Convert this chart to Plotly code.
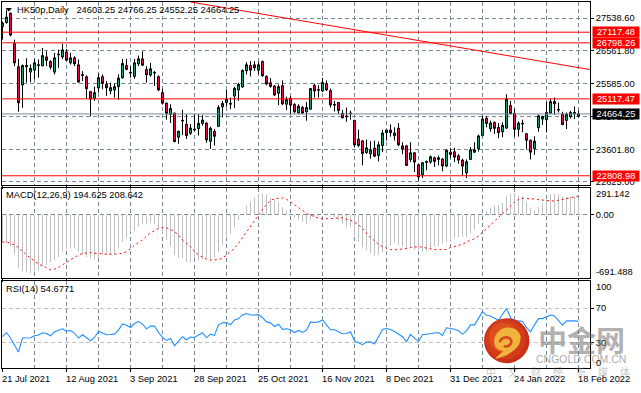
import plotly.graph_objects as go

dates_lbl = ["21 Jul 2021", "12 Aug 2021", "3 Sep 2021", "28 Sep 2021", "25 Oct 2021", "16 Nov 2021",
             "8 Dec 2021", "31 Dec 2021", "24 Jan 2022", "18 Feb 2022"]
date_bars = [0, 16, 32, 48, 64, 80, 96, 112, 128, 144]

highs = [27439,27786,27707,26893,26317,26148,26337,26148,26317,26297,26645,26545,26277,26496,26595,26774,26615,26496,26396,26297,
25950,25821,25354,25483,25880,25850,25652,25602,25582,25850,26317,26317,26099,26317,26416,26545,26099,26198,25950,25821,
25424,25007,24957,24709,24163,24788,24659,24361,24659,24659,24629,24411,24282,24212,24927,25056,25384,25156,25483,25602,
26000,26218,26248,26248,26238,26267,25821,25741,25533,25553,25672,25185,25205,24987,24957,24907,25026,25443,25572,25523,
25751,25672,25424,25056,25026,24788,24858,24758,24490,24193,23875,23895,23845,23865,23835,24183,24193,24351,24262,24391,
23815,23736,23815,23518,23170,23220,23269,23418,23388,23418,23339,23597,23647,23647,23458,23319,23299,23666,23815,24044,
24609,24590,24461,24441,24391,24411,25255,25056,24828,24441,24490,24083,23895,23994,24639,24609,25026,25116,25156,25007,
24729,24709,24758,24887,24766.25]
lows = [26893,27369,26992,26099,24729,24848,25602,25622,25702,25751,26099,26099,26000,25850,26049,26317,26267,26148,26099,25602,
25652,25126,24590,25056,25304,25404,25205,25255,25156,25086,25721,25979,25751,25721,26099,26099,25602,25781,25503,25354,
24947,24490,24391,23815,23766,24034,23915,24034,24143,24014,24312,23796,23617,23716,24272,24560,24887,24808,24838,25056,
25453,25850,25791,25950,25850,25781,25523,25453,25205,24927,24927,24778,24659,24689,24659,24659,24461,24788,25156,25156,
25324,25354,24858,24739,24659,24530,24431,24490,23657,23666,23120,23468,23319,23368,23240,23518,23865,23984,23865,23696,
23458,23101,23220,22922,22664,22743,22972,23170,23071,23120,22942,23071,23339,23220,23170,22823,22743,23289,23488,23537,
23994,24262,24133,24064,23934,23964,24212,24659,23984,23984,24113,23597,23299,23438,24133,24332,24113,24659,24639,24709,
24332,24212,24530,24510,24552.25]
opens = [27290,27409,27687,26774,26079,25533,26079,25920,25979,26118,26108,26376,26238,25920,26436,26376,26525,26198,26347,26138,
25821,25781,25334,25126,25443,25781,25553,25354,25384,25483,25751,26118,25890,25791,26168,26317,26000,25831,25890,25781,
25304,24987,24649,24689,23964,24451,24351,24083,24183,24222,24381,24391,23845,24143,24292,24877,25007,24957,25205,25384,
25473,25960,26118,26138,25979,26238,25791,25602,25503,25285,25513,24957,25136,24947,24699,24858,24729,24808,25523,25374,
25354,25572,25364,24927,25007,24679,24580,24669,24471,23905,23855,23508,23468,23637,23418,23716,24103,24183,24014,24232,
23706,23706,23299,23498,23140,22842,23210,23220,23349,23299,23309,23101,23518,23528,23408,23279,22892,23299,23518,23617,
24014,24530,24222,24411,24262,24133,24242,24917,24679,24203,24361,24073,23875,23627,24252,24510,24490,24689,25036,24778,
24659,24471,24580,24669,24603.25]
closes = [27389,27568,27032,26198,24997,26118,26118,26029,26198,26138,26416,26277,26069,26347,26456,26585,26277,26347,26168,25622,
25840,25424,25106,25304,25751,25582,25453,25453,25483,25741,26178,26000,25910,26198,26317,26128,25840,26019,25910,25384,
24987,24679,24828,23835,24143,24471,24014,24242,24203,24381,24480,23885,24232,23994,24858,24977,25106,24977,25433,25553,
25970,26138,25979,26049,26138,25811,25563,25493,25235,25483,24967,25096,24927,24729,24897,24689,24858,25424,25354,25394,
25612,25384,24937,24947,24768,24550,24600,24689,23736,23716,23478,23647,23587,23398,23736,24093,24183,24103,24093,23736,
23617,23120,23498,23220,22773,23200,23230,23379,23240,23349,23101,23577,23448,23368,23279,23101,23230,23587,23587,24004,
24510,24381,24391,24232,24103,24322,25106,24669,24203,24391,24381,23875,23518,23845,24609,24590,24709,25036,24967,24798,
24342,24659,24709,24709,24664.25]

macd_hist = [-324,-344,-376,-476,-644,-684,-696,-704,-684,-672,-624,-604,-576,-544,-512,-456,-412,-404,-404,-444,
-484,-512,-524,-536,-524,-476,-476,-476,-476,-404,-324,-284,-204,-196,-144,-112,-112,-96,-104,-164,
-224,-304,-384,-484,-512,-524,-572,-572,-524,-556,-536,-524,-544,-512,-452,-364,-284,-232,-152,-64,
0,112,160,208,256,256,244,208,188,148,88,52,16,-36,-56,-84,-112,-64,-24,-8,
0,8,-8,-32,-64,-104,-152,-144,-256,-324,-392,-424,-464,-496,-484,-456,-416,-368,-336,-364,
-384,-408,-392,-416,-424,-444,-444,-404,-384,-376,-344,-324,-304,-284,-272,-264,-264,-224,-176,-112,
-8,48,88,112,120,144,232,256,264,232,224,156,88,56,96,136,176,248,256,248,
216,216,224,216,208]
macd_signal = [-328,-328,-344,-364,-396,-444,-484,-524,-564,-596,-616,-644,-664,-656,-636,-604,-572,-544,-512,-484,
-468,-460,-456,-464,-464,-472,-476,-480,-476,-472,-464,-444,-412,-368,-336,-304,-256,-216,-192,-164,
-156,-156,-176,-204,-244,-304,-344,-384,-444,-484,-512,-536,-548,-548,-540,-524,-484,-452,-404,-344,
-276,-204,-136,-64,8,64,124,176,196,204,204,188,160,124,88,56,16,-4,-24,-40,
-48,-48,-48,-44,-36,-36,-52,-64,-88,-120,-164,-224,-276,-312,-356,-384,-404,-420,-424,-420,
-416,-408,-396,-388,-384,-392,-404,-416,-420,-420,-420,-420,-396,-384,-364,-356,-328,-312,-288,-256,
-212,-164,-124,-72,-36,8,56,104,156,184,200,200,192,192,184,176,172,168,168,176,
184,192,200,216,228]
rsi = [37.0,41.9,35.5,27.5,19.5,35.5,35.8,35.8,38.1,38.9,41.6,40.8,38.1,42.7,44.6,46.1,43.5,44.2,41.2,35.5,
39.3,35.5,32.4,36.2,43.1,41.2,39.3,39.6,40.0,44.6,51.8,50.3,47.7,52.2,54.5,51.5,46.1,49.2,49.2,41.9,
36.2,32.8,35.1,26.7,32.4,37.0,33.5,36.6,36.2,38.5,41.6,35.8,40.0,38.5,50.7,53.0,53.4,50.7,56.4,57.9,
62.1,63.7,62.1,62.1,62.5,59.1,54.1,53.0,48.8,51.5,45.4,46.1,45.0,41.9,44.2,41.9,44.6,54.1,53.4,54.1,
56.4,50.7,45.0,45.0,43.1,40.4,40.8,42.7,32.4,30.1,27.8,30.9,31.3,28.6,37.0,45.4,46.5,45.4,43.1,40.0,
37.0,31.3,39.6,35.5,31.6,39.3,40.0,41.2,41.2,41.9,38.5,47.3,46.5,45.7,43.8,40.0,43.8,50.7,50.7,58.3,
65.9,61.7,61.0,58.3,56.0,62.9,69.4,59.1,55.3,55.3,54.5,47.7,42.7,50.7,57.9,57.9,59.8,62.1,61.0,56.0,
50.3,55.3,55.7,55.3,54.6771]

levels = [27117.48, 26798.26, 25117.47, 22808.98]
level_text = ["27117.48", "26798.26", "25117.47", "22808.98"]
last_price = 24664.25
price_ticks = [27538.60, 26561.80, 25585.00, 24578.20, 23601.80, 22625.00]
trend_bars = [47, 147.2]
trend_prices = [28024, 25990]
macd_ticks = [0]
macd_labels = ["291.142", "-691.488"]
rsi_ticks = [70, 30]
bars = list(range(len(closes)))

W, H = 641, 393
def dy(top, bottom):
    return [1 - bottom / H, 1 - top / H]
def px(x): return x / W
def py(y): return 1 - y / H

XR = [(2 - 2.5) / 4, (590 - 2.5) / 4]
XD = [px(2), px(590)]
FONT = "Liberation Sans"
FS = 9.3
GRID = "#778899"
fig = go.Figure()

fig.add_trace(go.Candlestick(x=bars, open=opens, high=highs, low=lows, close=closes, xaxis="x", yaxis="y",
    increasing=dict(fillcolor="#1f9d63", line=dict(color="black", width=1)),
    decreasing=dict(fillcolor="#dc143c", line=dict(color="black", width=1)),
    whiskerwidth=0, showlegend=False))
for v in levels:
    fig.add_trace(go.Scatter(x=XR, y=[v, v], mode="lines", line=dict(color="#ff0000", width=1), xaxis="x", yaxis="y", showlegend=False))
fig.add_trace(go.Scatter(x=XR, y=[last_price, last_price], mode="lines", line=dict(color="#778899", width=1), xaxis="x", yaxis="y", showlegend=False))
fig.add_trace(go.Scatter(x=trend_bars, y=trend_prices, mode="lines", line=dict(color="#ff0000", width=1), xaxis="x", yaxis="y", showlegend=False))

fig.add_trace(go.Bar(x=bars, y=macd_hist, width=0.25, marker=dict(color="#c0c0c0", line=dict(width=0)), xaxis="x2", yaxis="y2", showlegend=False))
fig.add_trace(go.Scatter(x=bars, y=macd_signal, mode="lines", line=dict(color="#ff0000", width=1, dash="2px,3px"), xaxis="x2", yaxis="y2", showlegend=False))
fig.add_trace(go.Scatter(x=bars, y=rsi, mode="lines", line=dict(color="#1e90ff", width=1.1), xaxis="x3", yaxis="y3", showlegend=False))

xcommon = dict(range=XR, showline=True, linecolor="black", linewidth=1, mirror=True, zeroline=False,
               tickvals=list(range(8, 145, 8)), showticklabels=False, ticks="",
               showgrid=True, gridcolor=GRID, gridwidth=1, griddash="4px,3px", rangeslider=dict(visible=False),
               minor=dict(tickvals=date_bars, ticks="outside", ticklen=3, tickcolor="black", showgrid=False))
ycommon = dict(side="right", showline=True, linecolor="black", linewidth=1, mirror=True, zeroline=False,
               ticks="outside", ticklen=3, tickcolor="black", showgrid=True, gridwidth=1, griddash="4px,3px",
               tickfont=dict(family=FONT, size=FS, color="black"))

P0 = 28083.6; PK = 29.78
fig.update_layout(
    width=W, height=H, margin=dict(l=0, r=0, t=0, b=0), paper_bgcolor="white", plot_bgcolor="white",
    showlegend=False, boxgap=0.5, boxgroupgap=0, bargap=0.7, hovermode=False,
    xaxis=dict(domain=XD, anchor="y", **xcommon),
    xaxis2=dict(domain=XD, anchor="y2", **xcommon),
    xaxis3=dict(domain=XD, anchor="y3", **xcommon),
    yaxis=dict(domain=dy(2, 186), anchor="x", range=[P0 - PK * 186, P0 - PK * 2],
               tickvals=price_ticks, ticktext=["%.2f" % t for t in price_ticks], gridcolor=GRID, **ycommon),
    yaxis2=dict(domain=dy(189, 280), anchor="x2", range=[-762, 330],
                tickvals=macd_ticks, ticktext=["0.00"], gridcolor=GRID, **ycommon),
    yaxis3=dict(domain=dy(283, 371), anchor="x3", range=[0.8, 101.4],
                tickvals=rsi_ticks, ticktext=["70", "30"], gridcolor="#c0c0c0", **ycommon),
)

ann = []
def text(x, y, s, size=FS, color="black", anchor="left", family=FONT, **kw):
    ann.append(dict(xref="paper", yref="paper", x=px(x), y=py(y), text=s, showarrow=False, xanchor=anchor,
                    yanchor="middle", align=anchor, font=dict(family=family, size=size, color=color), borderpad=0, **kw))

text(16, 10, "HK50p,Daily&nbsp;&nbsp;&nbsp;24603.25 24766.25 24552.25 24664.25")
text(5, 197, "MACD(12,26,9) 194.625 208.642")
text(5, 291.5, "RSI(14) 54.6771")
text(595, 195.7, macd_labels[0])
text(595, 273.7, macd_labels[1])
text(595, 289.3, "100")
text(595, 365.7, "0")
for b, s in zip(date_bars, dates_lbl):
    ann.append(dict(xref="x3", yref="paper", x=b, y=py(382), text=s, showarrow=False, xanchor="left", yanchor="middle",
                    xshift=-2, font=dict(family=FONT, size=FS, color="black"), borderpad=0))

for v, s in zip(levels, level_text):
    ann.append(dict(xref="paper", yref="y", x=px(592), y=v, text=s, showarrow=False, xanchor="left", yanchor="middle",
                    font=dict(family=FONT, size=FS, color="white"), bgcolor="#ff0000", width=46, height=9.6, borderpad=0, align="center"))
ann.append(dict(xref="paper", yref="y", x=px(592), y=last_price, text="%.2f" % last_price, showarrow=False, xanchor="left", yanchor="middle",
                font=dict(family=FONT, size=FS, color="white"), bgcolor="black", width=46, height=9.6, borderpad=0, align="center"))

# watermark
WM = "rgba(110,110,110,0.55)"
text(581, 342, "<b>中金网</b>", size=29, color=WM, anchor="center", family="Noto Sans CJK SC")
text(580.5, 361.5, "CNGOLD.COM.CN", size=10.5, color="rgba(110,110,110,0.6)", anchor="center")
for cx, ch in zip([491, 513, 536, 558, 581, 603, 625], "中文财经新媒体"):
    text(cx, 374.5, ch, size=10, color="rgba(120,120,120,0.45)", anchor="center", family="Noto Sans CJK SC")

def path(pts):
    s = ""
    for p in pts:
        if isinstance(p, str):
            s += p + " "
        else:
            s += "%.5f,%.5f " % (px(475 + p[0] / 3), py(310 + p[1] / 3))
    return s
def circle(cx, cy, r, color):
    return dict(type="circle", xref="paper", yref="paper", x0=px(cx - r), x1=px(cx + r), y0=py(cy + r), y1=py(cy - r),
                fillcolor=color, line=dict(width=0), layer="above")
shapes = [circle(506.7, 343.3, 22.7, "#c9301a"), circle(505.5, 342, 20, "#d33c1b"), circle(504, 340, 15, "#dc4f1c")]
gold = path(["M", (60, 155), "C", (95, 148), (138, 125), (137, 90), "C", (136, 68), (115, 58), (95, 60), "C", (72, 62), (55, 85), (58, 108),
             "C", (60, 122), (72, 133), (85, 130), "C", (72, 142), (66, 148), (60, 155), "Z"])
shapes.append(dict(type="path", xref="paper", yref="paper", path=gold, fillcolor="#f2b33c", line=dict(width=0), layer="above"))
swirl = path(["M", (74, 104), "C", (78, 90), (100, 84), (108, 98), "C", (113, 110), (98, 122), (86, 116)])
shapes.append(dict(type="path", xref="paper", yref="paper", path=swirl, line=dict(color="#d8481c", width=2.5), layer="above"))
# chart marker at top left
shapes.append(dict(type="path", xref="paper", yref="paper",
                   path="M %.5f,%.5f L %.5f,%.5f L %.5f,%.5f Z" % (px(5.5), py(8), px(12), py(8), px(8.8), py(11.5)),
                   fillcolor="black", line=dict(width=0), layer="above"))
fig.update_layout(annotations=ann, shapes=shapes)
fig.write_html("out.html", post_script="document.body.style.margin='0';", config=dict(displayModeBar=False))
